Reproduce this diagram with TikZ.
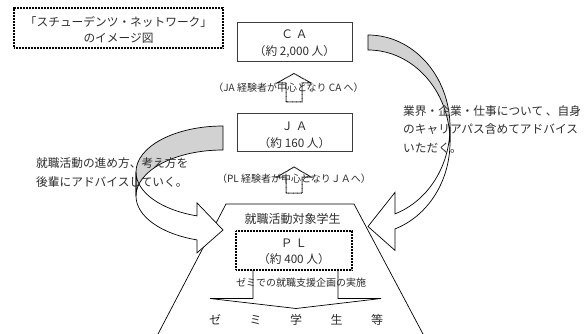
\documentclass[tikz,border=0pt]{standalone}
\usepackage{fontspec}
\setmainfont{Noto Sans CJK JP}
\definecolor{bandgray}{RGB}{210,210,210}
\definecolor{boxline}{RGB}{60,60,60}
\definecolor{inkgray}{RGB}{45,45,45}
\begin{document}
\begin{tikzpicture}[x=1pt,y=-1pt,
  txt/.style={inner sep=0pt, text height=10.3pt, text depth=1.4pt, text=inkgray, font=\fontsize{11.7pt}{14pt}\selectfont},
  bigtxt/.style={inner sep=0pt, text height=10.6pt, text depth=1.45pt, text=inkgray, font=\fontsize{12pt}{14pt}\selectfont},
  lbl/.style={inner sep=0pt, text height=8.8pt, text depth=1.2pt, text=inkgray, font=\fontsize{10pt}{12pt}\selectfont},
  solidbox/.style={draw=boxline, line width=0.9pt, inner sep=0pt},
  dotbox/.style={draw=black, line width=1.4pt, dash pattern=on 0.9pt off 0.6pt, inner sep=0pt},
  dotarrow/.style={draw=black, line width=1pt, dash pattern=on 0.8pt off 0.5pt},
  thinline/.style={draw=black, line width=0.7pt},
  bandline/.style={draw=black, line width=0.7pt, line join=miter},
]
\useasboundingbox (0,0) rectangle (586,334);

% title box
\node[dotbox, minimum width=209pt, minimum height=40pt] (title) at (118.5,28) {};

% CA and JA boxes
\node[solidbox, minimum width=115pt, minimum height=39pt] (ca) at (294.5,41.5) {};
\node[solidbox, minimum width=115pt, minimum height=38pt] (ja) at (294.5,132) {};

% dotted up arrows
\draw[dotarrow] (286,102) -- (286,83) -- (277,83) -- (294,73.5) -- (311,83) -- (302,83) -- (302,102) -- cycle;
\draw[dotarrow] (286,193) -- (286,177) -- (277,177) -- (294,167) -- (311,177) -- (302,177) -- (302,193) -- cycle;

% trapezoid of target students
\draw[thinline] (158,334) -- (226,204) -- (354,204) -- (423,334);

% PL box
\node[dotbox, minimum width=116pt, minimum height=39pt] (pl) at (294,250.5) {};
\coordinate (plL) at (253,270);
\coordinate (plR) at (338,270);
\draw[thinline] (plL) -- (253,298.5) -- (210,298.5) -- (296,308.5) -- (381,298.5) -- (338,298.5) -- (plR);

% left curved arrow (points right)
\path[fill=white] (136,172) arc[start angle=180, end angle=107.39, x radius=87, y radius=46]
  -- (197,202.9) -- (223,230) -- (197,252.9) -- (197,239.9)
  arc[start angle=107.39, end angle=180, x radius=87, y radius=46] -- cycle;
\path[fill=bandgray] (223,150) arc[start angle=270, end angle=180, x radius=87, y radius=46]
  -- (136,172) arc[start angle=180, end angle=270, x radius=87, y radius=46] -- cycle;
\draw[bandline] (136,172) arc[start angle=180, end angle=107.39, x radius=87, y radius=46]
  -- (197,202.9) -- (223,230) -- (197,252.9) -- (197,239.9)
  arc[start angle=107.39, end angle=180, x radius=87, y radius=46] -- cycle;
\draw[bandline] (223,150) arc[start angle=270, end angle=180, x radius=87, y radius=46]
  -- (136,172) arc[start angle=180, end angle=270, x radius=87, y radius=46] -- cycle;

% right curved arrow (points left)
\path[fill=white] (450,127) arc[start angle=0, end angle=70.78, x radius=82, y radius=92]
  -- (395,192.4) -- (368,226.5) -- (395,250.4) -- (395,228.9)
  arc[start angle=70.78, end angle=0, x radius=82, y radius=92] -- cycle;
\path[fill=bandgray] (368,50) arc[start angle=-90, end angle=0, x radius=82, y radius=92]
  -- (450,127) arc[start angle=0, end angle=-90, x radius=82, y radius=92] -- cycle;
\draw[bandline] (450,127) arc[start angle=0, end angle=70.78, x radius=82, y radius=92]
  -- (395,192.4) -- (368,226.5) -- (395,250.4) -- (395,228.9)
  arc[start angle=70.78, end angle=0, x radius=82, y radius=92] -- cycle;
\draw[bandline] (368,50) arc[start angle=-90, end angle=0, x radius=82, y radius=92]
  -- (450,127) arc[start angle=0, end angle=-90, x radius=82, y radius=92] -- cycle;

% texts
\node[txt] (title1) at (118.5,22) {「スチューデンツ・ネットワーク」};
\node[txt] (title2) at (118.5,38) {のイメージ図};
\node[txt] (ca1) at (294.5,34) {Ｃ Ａ};
\node[txt] (ca2) at (294.5,51.5) {（約 2,000 人）};
\node[txt] (ja1) at (294.5,126) {Ｊ Ａ};
\node[txt] (ja2) at (294.5,143) {（約 160 人）};
\node[lbl] (lab1) at (288.5,87.5) {（JA 経験者が中心となり CA へ）};
\node[lbl] (lab2) at (294,179) {（PL 経験者が中心となりＪＡへ）};
\node[txt, anchor=west] (left1) at (36,163) {就職活動の進め方、考え方を};
\node[txt, anchor=west] (left2) at (36,181.7) {後輩にアドバイスしていく。};
\node[txt, anchor=west] (right1) at (403,111) {業界・企業・仕事について 、自身};
\node[txt, anchor=west] (right2) at (403,129.5) {のキャリアパス含めてアドバイス};
\node[txt, anchor=west] (right3) at (403,148) {いただく。};
\node[bigtxt] (target) at (292.5,219) {就職活動対象学生};
\node[txt] (pl1) at (294,243) {Ｐ Ｌ};
\node[txt] (pl2) at (294,259) {（約 400 人）};
\node[lbl] (zemi) at (301,283) {ゼミでの就職支援企画の実施};
\node[bigtxt] (zemis) at (296,320) {ゼ\hspace{28.5pt}ミ\hspace{28.5pt}学\hspace{28.5pt}生\hspace{28.5pt}等};
\end{tikzpicture}
\end{document}
